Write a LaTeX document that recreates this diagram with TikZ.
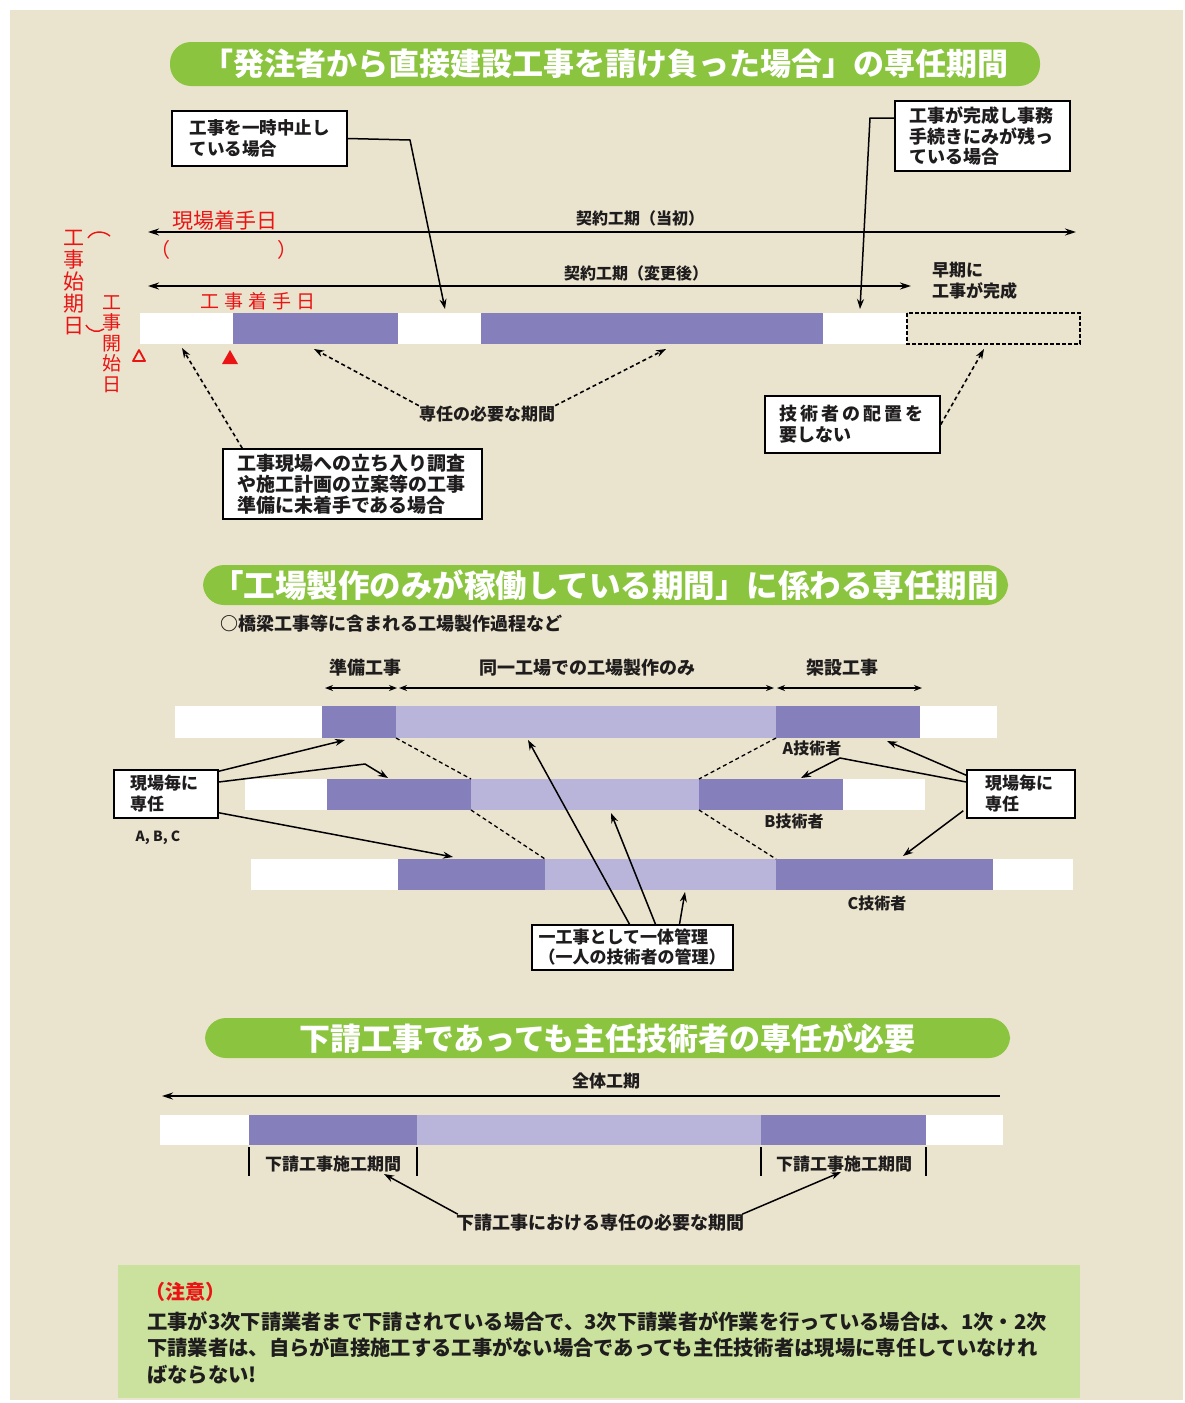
\documentclass[tikz,border=0pt]{standalone}
\usepackage{fontspec}
\setmainfont{Noto Sans CJK JP}
\usetikzlibrary{arrows.meta,calc}
\definecolor{beige}{RGB}{234,227,205}
\definecolor{bgreen}{RGB}{139,197,63}
\definecolor{notegreen}{RGB}{203,226,158}
\definecolor{dpurple}{RGB}{133,128,188}
\definecolor{lpurple}{RGB}{185,181,218}
\definecolor{rred}{RGB}{235,20,20}
\definecolor{ink}{RGB}{30,28,28}
\newcommand\fsz[2]{\fontsize{#1}{#2}\selectfont}
\newcommand\seg[6]{\fill[#5] (#1,#3) rectangle (#2,#4);}
\tikzset{
  banner/.style={fill=bgreen, rounded corners=21pt, text=white, inner sep=0pt, font=\bfseries\fsz{31}{36}},
  box/.style={draw=black, line width=1.5pt, fill=white, inner sep=0pt, align=left, text=ink, font=\bfseries\fsz{17.5}{20.5}},
  lbl/.style={inner sep=0pt, text=ink, font=\bfseries\fsz{17}{20}},
  redt/.style={inner sep=0pt, text=rred, font=\fsz{21}{22}},
  conn/.style={line width=1.5pt, draw=black},
  arr/.style={-{Stealth[length=10pt,width=7pt]}},
  darr/.style={{Stealth[length=8pt,width=6pt]}-{Stealth[length=8pt,width=6pt]}},
  dashln/.style={line width=1.6pt, dash pattern=on 4pt off 3pt},
}
\begin{document}
\begin{tikzpicture}[x=1pt,y=-1pt]
\useasboundingbox (0,0) rectangle (1184,1403);
\fill[white] (0,0) rectangle (1184,1403);
\fill[beige] (10,10) rectangle (1183,1400);

% ================= Section 1 =================
\node[banner, minimum width=870, minimum height=44] (ban1) at (605,64) {「発注者から直接建設工事を請け負った場合」の専任期間};

% bar
\seg{140}{233}{313}{344}{white}{}
\seg{233}{398}{313}{344}{dpurple}{}
\seg{398}{481}{313}{344}{white}{}
\seg{481}{823}{313}{344}{dpurple}{}
\seg{823}{907}{313}{344}{white}{}
\draw[line width=1.2pt, dash pattern=on 4pt off 2pt] (907,313) rectangle (1080,344);

% period arrows
\coordinate (k1l) at (148,232); \coordinate (k1r) at (1076,232);
\coordinate (k2l) at (148,286); \coordinate (k2r) at (911,286);
\draw[conn, {Stealth[length=11pt,width=7pt]}-{Stealth[length=11pt,width=7pt]}] (k1l) -- (k1r);
\draw[conn, {Stealth[length=11pt,width=7pt]}-{Stealth[length=11pt,width=7pt]}] (k2l) -- (k2r);
\node[lbl, font=\bfseries\fsz{16}{18}] (kt1) at (640,218) {契約工期（当初）};
\node[lbl, font=\bfseries\fsz{16}{18}] (kt2) at (636,273) {契約工期（変更後）};
\node[lbl, align=left, anchor=west, font=\bfseries\fsz{17}{21}] (early) at (932,281) {早期に\\工事が完成};

% boxes
\node[box, minimum width=175, minimum height=55, text width=140] (b1) at (259.5,138.5) {工事を一時中止し\\ている場合};
\node[box, minimum width=175, minimum height=70, text width=147, font=\bfseries\fsz{18}{20.5}] (b2) at (982.5,136) {工事が完成し事務\\手続きにみが残っ\\ている場合};
\node[box, minimum width=259, minimum height=70, text width=231, font=\bfseries\fsz{19}{21}] (b3) at (352.5,484) {工事現場への立ち入り調査\\や施工計画の立案等の工事\\準備に未着手である場合};
\node[box, minimum width=175, minimum height=57, text width=146, font=\bfseries\fsz{18}{21}] (b4) at (852.5,424.5) {技\,術\,者\,の\,配\,置\,を\\要しない};

\coordinate (g1) at (445,309);
\coordinate (g2) at (860,309);
\draw[conn, arr] (b1.east) -- (410,140) -- (g1);
\draw[conn, arr] ($(b2.west)+(0,-18)$) -- (870,118) -- (g2);

\node[lbl] (sp) at (487,414) {専任の必要な期間};
\coordinate (s1) at (314,349);
\coordinate (s2) at (666,349);
\coordinate (s3) at (182,348);
\coordinate (s4) at (984,349);
\draw[dashln, arr] (sp.north west) -- (s1);
\draw[dashln, arr] (sp.north east) -- (s2);
\draw[dashln, arr] ($(b3.north west)+(20,0)$) -- (s3);
\draw[dashln, arr] (b4.east) -- (s4);

% red annotations
\node[redt] (rg) at (225,221) {現場着手日};
\node[redt, font=\fsz{20}{22}] (rp1) at (160,250) {（};
\node[redt, font=\fsz{20}{22}] (rp2) at (287,250) {）};
\node[redt, font=\fsz{19}{20}] (rk) at (258,301) {工\kern5pt 事\kern5pt 着\kern5pt 手\kern5pt 日};
\node[redt, align=center, font=\fsz{21}{22}] (rv1) at (74,283) {工\\事\\始\\期\\日};
\node[redt, align=center, font=\fsz{19}{20.5}] (rv2) at (112,344) {工\\事\\開\\始\\日};
\draw[rred, line width=1.4pt] (88,238) .. controls (92,231) and (103,230) .. (110,236);
\draw[rred, line width=1.4pt] (86,325) .. controls (90,332) and (98,333) .. (104,329);
\draw[rred, line width=1.8pt, line join=round] (133,361) -- (145,361) -- (139,350) -- cycle;
\fill[rred] (222,364) -- (238,364) -- (230,350) -- cycle;

% ================= Section 2 =================
\node[banner, minimum width=805, minimum height=40, font=\bfseries\fsz{31.5}{36}] (ban2) at (605.5,585) {「工場製作のみが稼働している期間」に係わる専任期間};
\node[lbl, anchor=west, font=\bfseries\fsz{18}{20}] (sub) at (220,624) {○橋梁工事等に含まれる工場製作過程など};

\node[lbl, font=\bfseries\fsz{18}{20}] (p1) at (365,668) {準備工事};
\node[lbl, font=\bfseries\fsz{18}{20}] (p2) at (587,668) {同一工場での工場製作のみ};
\node[lbl, font=\bfseries\fsz{18}{20}] (p3) at (842,668) {架設工事};
\coordinate (q0) at (325,688); \coordinate (q1a) at (397,688); \coordinate (q1b) at (399,688);
\coordinate (q2a) at (774,688); \coordinate (q2b) at (777,688); \coordinate (q3) at (922,688);
\draw[line width=1.4pt, darr] (q0) -- (q1a);
\draw[line width=1.4pt, darr] (q1b) -- (q2a);
\draw[line width=1.4pt, darr] (q2b) -- (q3);

% bar A
\seg{175}{322}{706}{738}{white}{}
\seg{322}{396}{706}{738}{dpurple}{}
\seg{396}{776}{706}{738}{lpurple}{}
\seg{776}{920}{706}{738}{dpurple}{}
\seg{920}{997}{706}{738}{white}{}
% bar B
\seg{245}{327}{779}{810}{white}{}
\seg{327}{471}{779}{810}{dpurple}{}
\seg{471}{699}{779}{810}{lpurple}{}
\seg{699}{843}{779}{810}{dpurple}{}
\seg{843}{925}{779}{810}{white}{}
% bar C
\seg{251}{398}{859}{890}{white}{}
\seg{398}{545}{859}{890}{dpurple}{}
\seg{545}{776}{859}{890}{lpurple}{}
\seg{776}{993}{859}{890}{dpurple}{}
\seg{993}{1073}{859}{890}{white}{}

% dashed links between bars
\draw[line width=1.3pt, dash pattern=on 4pt off 3pt] (396,738) -- (471,779);
\draw[line width=1.3pt, dash pattern=on 4pt off 3pt] (776,738) -- (699,779);
\draw[line width=1.3pt, dash pattern=on 4pt off 3pt] (471,810) -- (545,859);
\draw[line width=1.3pt, dash pattern=on 4pt off 3pt] (699,810) -- (776,859);

\node[lbl, font=\bfseries\fsz{16}{18}] (ta) at (812,748) {A技術者};
\node[lbl, font=\bfseries\fsz{16}{18}] (tb) at (794,821) {B技術者};
\node[lbl, font=\bfseries\fsz{16}{18}] (tc) at (877,903) {C技術者};

\node[box, minimum width=104, minimum height=48, text width=72, font=\bfseries\fsz{17}{21}] (lb) at (166,794) {現場毎に\\専任};
\node[lbl, font=\bfseries\fsz{14}{16}] (abc) at (158,838) {A, B, C};
\node[box, minimum width=108, minimum height=48, text width=72, font=\bfseries\fsz{17}{21}] (rb) at (1021,794) {現場毎に\\専任};
\node[box, minimum width=201, minimum height=45, text width=188, font=\bfseries\fsz{17}{20}] (cb) at (632.5,947.5) {一工事として一体管理\\（一人の技術者の管理）};

\coordinate (a1) at (345,740);
\coordinate (a2) at (388,778);
\coordinate (a3) at (453,857);
\coordinate (a4) at (887,741);
\coordinate (a5) at (801,778);
\coordinate (a6) at (903,856);
\coordinate (m1) at (528,740);
\coordinate (m2) at (611,813);
\coordinate (m3) at (685,892);
\draw[conn, arr] ($(lb.north east)+(0,2)$) -- (a1);
\draw[conn, arr] ($(lb.east)+(0,-12)$) -- (365,764) -- (a2);
\draw[conn, arr] ($(lb.south east)+(0,-6)$) -- (a3);
\draw[conn, arr] ($(rb.north west)+(0,6)$) -- (a4);
\draw[conn, arr] ($(rb.west)+(0,-12)$) -- (840,758) -- (a5);
\draw[conn, arr] ($(rb.south west)+(-3,-8)$) -- (a6);
\draw[conn, arr] ($(cb.north)+(-3,0)$) -- (m1);
\draw[conn, arr] ($(cb.north)+(23,0)$) -- (m2);
\draw[conn, arr] ($(cb.north)+(47,0)$) -- (m3);

% ================= Section 3 =================
\node[banner, minimum width=805, minimum height=40, font=\bfseries\fsz{31}{36}] (ban3) at (607.5,1038) {下請工事であっても主任技術者の専任が必要};

\node[lbl, font=\bfseries\fsz{17}{20}] (zt) at (606,1081) {全体工期};
\coordinate (zr) at (1000,1096); \coordinate (zl) at (162,1096);
\draw[conn, {Stealth[length=11pt,width=7pt]}-] (zl) -- (zr);

\seg{160}{249}{1115}{1145}{white}{}
\seg{249}{417}{1115}{1145}{dpurple}{}
\seg{417}{761}{1115}{1145}{lpurple}{}
\seg{761}{926}{1115}{1145}{dpurple}{}
\seg{926}{1003}{1115}{1145}{white}{}
\foreach \xx in {249,417,761,926} {\draw[line width=1.2pt] (\xx,1147) -- (\xx,1176);}
\node[lbl, font=\bfseries\fsz{17}{20}] (sc1) at (333,1164) {下請工事施工期間};
\node[lbl, font=\bfseries\fsz{17}{20}] (sc2) at (844,1164) {下請工事施工期間};
\node[lbl, font=\bfseries\fsz{18}{20}] (need) at (600,1223) {下請工事における専任の必要な期間};
\coordinate (n1) at (384,1174);
\coordinate (n2) at (841,1172);
\draw[conn, arr] ($(need.north west)+(2,0)$) -- (n1);
\draw[conn, arr] ($(need.north east)+(-2,0)$) -- (n2);

% note
\node[fill=notegreen, minimum width=962, minimum height=133, inner sep=0pt] (note) at (599,1331.5) {};
\node[redt, anchor=west, font=\bfseries\fsz{20}{22}] (chui) at (145,1292) {（注意）};
\node[lbl, anchor=west, font=\bfseries\fsz{20.3}{22}] (nl1) at (147,1322) {工事が3次下請業者まで下請されている場合で、3次下請業者が作業を行っている場合は、1次・2次};
\node[lbl, anchor=west, font=\bfseries\fsz{20.3}{22}] (nl2) at (147,1348) {下請業者は、自らが直接施工する工事がない場合であっても主任技術者は現場に専任していなけれ};
\node[lbl, anchor=west, font=\bfseries\fsz{20.3}{22}] (nl3) at (147,1375) {ばならない!};
\end{tikzpicture}
\end{document}
